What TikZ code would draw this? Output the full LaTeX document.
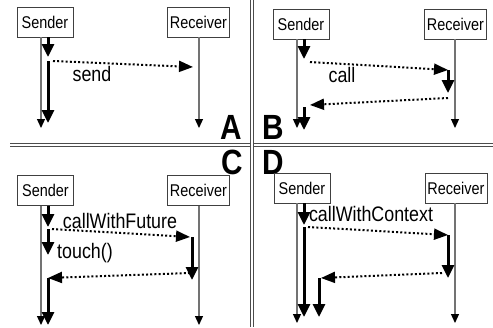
\documentclass[tikz,border=0pt]{standalone}
\usepackage{fontspec}
\setmainfont{Liberation Sans}[FakeStretch=0.85]
\usetikzlibrary{arrows.meta}

\tikzset{
  party/.style={draw=black!75, line width=0.8pt, fill=white, inner sep=0pt,
    minimum height=30pt, font=\fontsize{17}{17}\selectfont},
  sender/.style={party, minimum width=56pt},
  receiver/.style={party, minimum width=62pt},
  lifeline/.style={draw=black!55, line width=1.2pt,
    -{Triangle[length=9pt,width=8pt,black]}},
  active/.style={line width=3pt, -{Triangle[length=13pt,width=12pt]}},
  msg/.style={line width=2pt, dash pattern=on 2pt off 2.2pt,
    -{Triangle[length=14pt,width=11pt]}},
  msglabel/.style={font=\fontsize{21}{21}\selectfont, inner sep=0pt},
  panel/.style={font=\fontsize{35}{35}\selectfont\bfseries, inner sep=0pt},
  divider/.style={draw=black!70, line width=1.2pt, double=white, double distance=1.8pt}
}

\begin{document}
\begin{tikzpicture}[x=1pt, y=-1pt]
  \useasboundingbox (0,0) rectangle (493,327);

  \draw[divider] (10,145) -- (493,145);
  \draw[divider] (252,0) -- (252,327);

  \node[panel] (labA) at (231,127.5) {A};
  \node[panel] (labB) at (273,127.5) {B};
  \node[panel] (labC) at (232,162.5) {C};
  \node[panel] (labD) at (273.5,162.5) {D};

  % A: send
  \node[sender] (sndA) at (45,22) {Sender};
  \node[receiver] (rcvA) at (198.5,22) {Receiver};
  \draw[lifeline] (sndA.south -| 41,0) -- (41,128);
  \draw[lifeline] (rcvA.south -| 199,0) -- (199,128);
  \draw[active] (sndA.south -| 48,0) -- (48,57);
  \draw[active] (48,61) -- (48,123);
  \draw[msg] (53,61) -- (193,67);
  \node[msglabel] (sendA) at (92,74) {send};

  % B: call
  \node[sender] (sndB) at (301,24) {Sender};
  \node[receiver] (rcvB) at (455.5,24) {Receiver};
  \draw[lifeline] (sndB.south -| 297,0) -- (297,128);
  \draw[lifeline] (rcvB.south -| 455,0) -- (455,128);
  \draw[active] (sndB.south -| 304,0) -- (304,59);
  \draw[msg] (310,62) -- (448,70);
  \draw[active] (448,70) -- (448,93);
  \draw[msg] (448,98) -- (310,105);
  \draw[active] (304,107) -- (304,130);
  \node[msglabel] (callB) at (342,75) {call};

  % C: callWithFuture
  \node[sender] (sndC) at (45.5,190.5) {Sender};
  \node[receiver] (rcvC) at (198.5,190.5) {Receiver};
  \draw[lifeline] (sndC.south -| 41,0) -- (41,325);
  \draw[lifeline] (rcvC.south -| 199,0) -- (199,325);
  \draw[active] (sndC.south -| 48,0) -- (48,227);
  \draw[active] (48,229) -- (48,255);
  \draw[msg] (52,229) -- (190,237);
  \node[msglabel] (callC) at (120,221) {callWithFuture};
  \node[msglabel] (touchC) at (85,253) {touch()};
  \draw[active] (192,237) -- (192,280);
  \draw[msg] (190,273) -- (48,278);
  \draw[active] (48,278) -- (48,325);

  % D: callWithContext
  \node[sender] (sndD) at (302,188) {Sender};
  \node[receiver] (rcvD) at (456,188) {Receiver};
  \draw[lifeline] (sndD.south -| 297,0) -- (297,323);
  \draw[lifeline] (rcvD.south -| 455,0) -- (455,323);
  \draw[active] (sndD.south -| 304,0) -- (304,225);
  \draw[active] (304,227) -- (304,317);
  \draw[msg] (308,227) -- (448,235);
  \node[msglabel] (callD) at (371,214) {callWithContext};
  \draw[active] (448,235) -- (448,278);
  \draw[msg] (442,273) -- (321,278);
  \draw[active] (319,278) -- (319,317);
\end{tikzpicture}
\end{document}
